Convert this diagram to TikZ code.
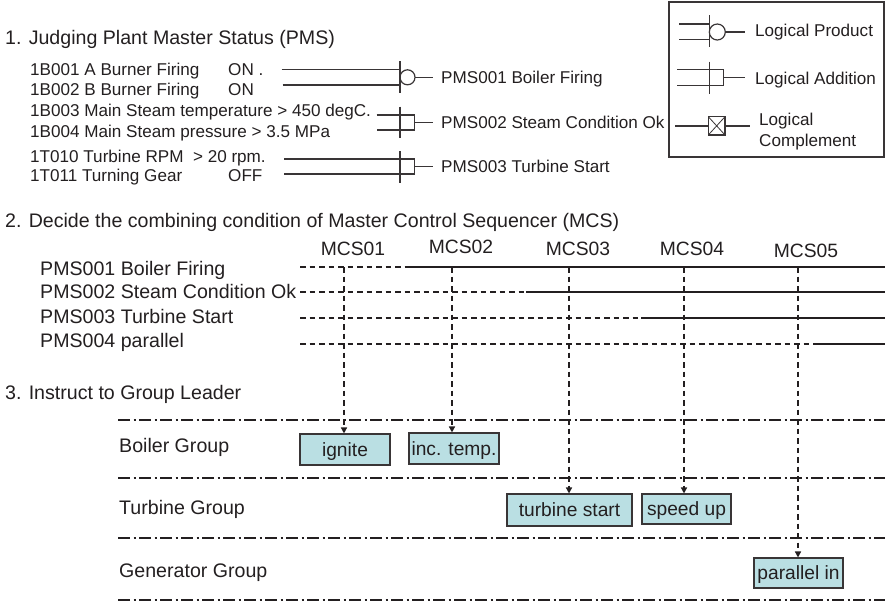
\documentclass[tikz,border=0pt]{standalone}
\usepackage{fontspec}
\setmainfont{Liberation Sans}
\usetikzlibrary{arrows.meta}
\definecolor{ink}{RGB}{35,31,32}
\definecolor{actfill}{RGB}{186,223,227}
\begin{document}
\begin{tikzpicture}[x=1pt,y=-1pt,
  big/.style={font=\fontsize{19.6}{23}\selectfont, text=ink, inner sep=0pt, anchor=base west},
  mcs/.style={font=\fontsize{19.3}{23}\selectfont, text=ink, inner sep=0pt, anchor=base},
  small/.style={font=\fontsize{17.1}{21}\selectfont, text=ink, inner sep=0pt, anchor=base west},
  outlabel/.style={small, inner xsep=8pt, inner ysep=0pt},
  gateline/.style={draw=ink!90, line width=1.2pt},
  rowdash/.style={ink, line width=1.3pt, dash pattern=on 5.5pt off 4pt},
  rowsolid/.style={ink, line width=2.8pt},
  vdash/.style={ink, line width=1.4pt, dash pattern=on 5.5pt off 4pt,
                -{Triangle[width=6pt,length=6pt]}},
  laneline/.style={ink, line width=1.4pt, dash pattern=on 12pt off 3.5pt on 2pt off 3.5pt},
  actbox/.style={draw=ink!90, line width=1.1pt, fill=actfill, text=ink,
                 font=\fontsize{19.2}{23}\selectfont, inner sep=0pt,
                 text height=13.7pt, text depth=0pt},
]
\useasboundingbox (0,0) rectangle (885,606);

% ---------- 1. plant master status ----------
\node[big] (h1) at (5,44) {1. Judging Plant Master Status (PMS)};

\node[small] (b1) at (30,75) {1B001 A Burner Firing};
\node[small] (b1v) at (228,75) {ON .};
\node[small] (b2) at (30,95) {1B002 B Burner Firing};
\node[small] (b2v) at (228,95) {ON};
\node[small] (b3) at (30,116.7) {1B003 Main Steam temperature > 450 degC.};
\node[small] (b4) at (30,137) {1B004 Main Steam pressure > 3.5 MPa};
\node[small] (t1) at (30,162) {1T010 Turbine RPM\ \ > 20 rpm.};
\node[small] (t2) at (30,181.7) {1T011 Turning Gear};
\node[small] (t2v) at (228,181.7) {OFF};

\node[outlabel] (pms1) at (433,83) {PMS001 Boiler Firing};
\node[outlabel] (pms2) at (433,128) {PMS002 Steam Condition Ok};
\node[outlabel] (pms3) at (433,172) {PMS003 Turbine Start};

% logical product -> PMS001
\draw[gateline] (281.7,69.3) -- (400,69.3);
\draw[gateline] (282.7,85) -- (400,85);
\draw[gateline] (400,61) -- (400,92.7);
\draw[gateline] (407.5,77.3) circle[radius=7.5pt];
\coordinate (g1) at (415,77.3);
\draw[gateline] (g1) -- (g1 -| pms1.west);

% logical addition -> PMS002
\draw[gateline] (376.7,115) -- (414.3,115) -- (414.3,130) -- (376.7,130);
\draw[gateline] (400,106.7) -- (400,137.7);
\coordinate (g2) at (414.3,122.5);
\draw[gateline] (g2) -- (g2 -| pms2.west);

% logical addition -> PMS003
\draw[gateline] (284,159) -- (414.3,159) -- (414.3,174) -- (284,174);
\draw[gateline] (400,151) -- (400,182.7);
\coordinate (g3) at (414.3,166.5);
\draw[gateline] (g3) -- (g3 -| pms3.west);

% ---------- legend ----------
\draw[draw=ink!90, line width=1.2pt] (669,2) rectangle (884,157);
\node[small] (lp) at (755,36) {Logical Product};
\node[small] (la) at (755,84) {Logical Addition};
\node[small, align=left, font=\fontsize{17.1}{21}\selectfont] (lc) at (759,146) {Logical\\Complement};

\draw[gateline] (679.3,24) -- (709.3,24);
\draw[gateline] (679.3,39.3) -- (709.3,39.3);
\draw[gateline] (709.3,15) -- (709.3,47.3);
\draw[gateline] (717.3,32) circle[radius=8pt];
\draw[gateline] (725.3,32) -- (745,32);

\draw[gateline] (677.3,69.3) -- (723.3,69.3) -- (723.3,85.3) -- (677.3,85.3);
\draw[gateline] (709.3,61.7) -- (709.3,94);
\draw[gateline] (723.3,77.3) -- (745,77.3);

\draw[gateline] (675,126) -- (708.3,126);
\draw[gateline] (708.3,116.7) rectangle (725,135);
\draw[gateline, line width=0.8pt] (708.3,116.7) -- (725,135) (708.3,135) -- (725,116.7);
\draw[gateline] (725,126) -- (750,126);

% ---------- 2. master control sequencer ----------
\node[big] (h2) at (5,227) {2. Decide the combining condition of Master Control Sequencer (MCS)};

\node[big] (p1) at (40,275) {PMS001 Boiler Firing};
\node[big] (p2) at (40,298) {PMS002 Steam Condition Ok};
\node[big] (p3) at (40,323) {PMS003 Turbine Start};
\node[big] (p4) at (40,347) {PMS004 parallel};

\node[mcs] (mcs1) at (353,255) {MCS01};
\node[mcs] (mcs2) at (461,253) {MCS02};
\node[mcs] (mcs3) at (578,255) {MCS03};
\node[mcs] (mcs4) at (692,255) {MCS04};
\node[mcs] (mcs5) at (806,257) {MCS05};

% condition rows: dashed while off, solid once established
\draw[rowdash] (300,267) -- (405,267);
\draw[rowsolid] (405,267) -- (885,267);
\draw[rowdash] (300,292) -- (526,292);
\draw[rowsolid] (526,292) -- (885,292);
\draw[rowdash] (300,318) -- (641,318);
\draw[rowsolid] (641,318) -- (885,318);
\draw[rowdash] (300,344) -- (815,344);
\draw[rowsolid] (815,344) -- (885,344);

% ---------- 3. group leaders ----------
\node[big] (h3) at (5,399) {3. Instruct to Group Leader};

\draw[laneline] (118,420) -- (885,420);
\draw[laneline] (118,478) -- (885,478);
\draw[laneline] (118,538) -- (885,538);
\draw[laneline] (118,600) -- (885,600);

\node[big] (gb) at (119,452) {Boiler Group};
\node[big] (gt) at (119,514) {Turbine Group};
\node[big] (gg) at (119,577) {Generator Group};

\node[actbox, minimum width=90pt, minimum height=31pt] (ignite) at (345,449.5) {ignite};
\node[actbox, minimum width=90pt, minimum height=31pt] (inctemp) at (454,448.5) {inc. temp.};
\node[actbox, minimum width=125pt, minimum height=32pt] (tstart) at (569.5,510) {turbine start};
\node[actbox, minimum width=89pt, minimum height=30pt] (spdup) at (686.5,509) {speed up};
\node[actbox, minimum width=89pt, minimum height=30pt] (parin) at (798.5,573) {parallel in};

% sequencer steps issuing instructions
\coordinate (s1) at (344,267);
\coordinate (s2) at (452,267);
\coordinate (s3) at (569,267);
\coordinate (s4) at (684,267);
\coordinate (s5) at (798,267);
\draw[vdash] (s1) -- (s1 |- ignite.north);
\draw[vdash] (s2) -- (s2 |- inctemp.north);
\draw[vdash] (s3) -- (s3 |- tstart.north);
\draw[vdash] (s4) -- (s4 |- spdup.north);
\draw[vdash] (s5) -- (s5 |- parin.north);
\end{tikzpicture}
\end{document}
